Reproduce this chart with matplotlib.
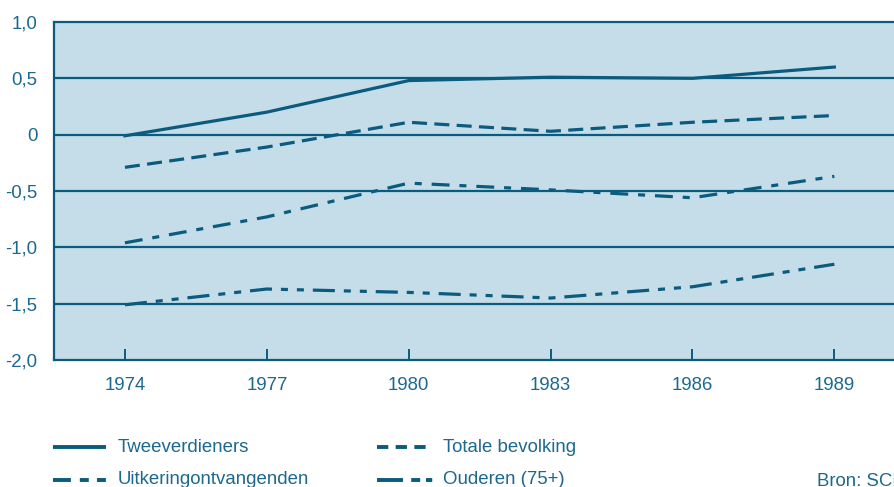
import matplotlib
matplotlib.use("Agg")
import matplotlib.pyplot as plt
from matplotlib.lines import Line2D

plt.rcParams['font.family'] = ['Liberation Sans', 'DejaVu Sans']

# data
years = [1974, 1977, 1980, 1983, 1986, 1989]
tweeverdieners = [-0.01, 0.20, 0.48, 0.51, 0.50, 0.60]
totale_bevolking = [-0.29, -0.11, 0.11, 0.03, 0.11, 0.17]
uitkering = [-0.96, -0.73, -0.43, -0.49, -0.56, -0.37]
ouderen = [-1.51, -1.37, -1.40, -1.45, -1.35, -1.15]
y_ticks = [1.0, 0.5, 0, -0.5, -1.0, -1.5, -2.0]
y_labels = ['1,0', '0,5', '0', '-0,5', '-1,0', '-1,5', '-2,0']

line_col = '#0b5b7f'
text_col = '#1c6890'
bg_col = '#c4dde8'
fs = 13.4

W, H = 895, 487
fig = plt.figure(figsize=(W / 100, H / 100), dpi=100)
ax = fig.add_axes([54 / W, 1 - 360 / H, (910 - 54) / W, (360 - 22) / H])
ax.set_facecolor(bg_col)

ax.set_xlim(1972.5, 1990.6)
ax.set_ylim(-2.0, 1.0)

for y in y_ticks[1:-1]:
    ax.axhline(y, color=line_col, lw=1.6, zorder=1)

ax.plot(years, tweeverdieners, color=line_col, lw=2.3, zorder=3, linestyle='-')
ax.plot(years, totale_bevolking, color=line_col, lw=2.3, zorder=3,
        linestyle=(0, (4.7, 2.3)))
ax.plot(years, uitkering, color=line_col, lw=2.3, zorder=3,
        linestyle=(0, (5.6, 3.1, 2.2, 3.1)))
ax.plot(years, ouderen, color=line_col, lw=2.3, zorder=3,
        linestyle=(0, (6.9, 2.8, 2.2, 2.8, 2.2, 2.8)))

ax.set_xticks(years)
ax.set_xticklabels([str(y) for y in years])
ax.set_yticks(y_ticks)
ax.set_yticklabels(y_labels)
ax.tick_params(axis='x', direction='in', length=8, width=1.4, color=line_col,
               labelcolor=text_col, labelsize=fs, pad=12)
ax.tick_params(axis='y', length=0, labelcolor=text_col, labelsize=fs, pad=12)

for s in ['left', 'bottom', 'top']:
    ax.spines[s].set_color(line_col)
    ax.spines[s].set_linewidth(1.6)
ax.spines['right'].set_visible(False)

# legend drawn by hand (pixel positions)
def legend_item(x0, x1, xt, y, label, ls):
    fy = 1 - y / H
    fig.add_artist(Line2D([x0 / W, x1 / W], [fy, fy], color=line_col, lw=2.8,
                          linestyle=ls, solid_capstyle='butt', dash_capstyle='butt'))
    fig.text(xt / W, fy, label, color=text_col, fontsize=fs, va='center')

legend_item(53, 106, 118, 447, 'Tweeverdieners', '-')
legend_item(377, 433, 443, 447, 'Totale bevolking', (0, (2.9, 1.9)))
legend_item(53, 106, 118, 480, 'Uitkeringontvangenden', (0, (4.6, 2.3, 2.3, 2.1, 2.3, 10)))
legend_item(377, 433, 443, 480, 'Ouderen (75+)', (0, (6.7, 2.1, 2.3, 1.5, 1.6, 10)))
fig.text(817 / W, 1 - 481 / H, 'Bron: SCP', color=text_col, fontsize=fs, va='center')

fig.savefig('out.png', dpi=100)
